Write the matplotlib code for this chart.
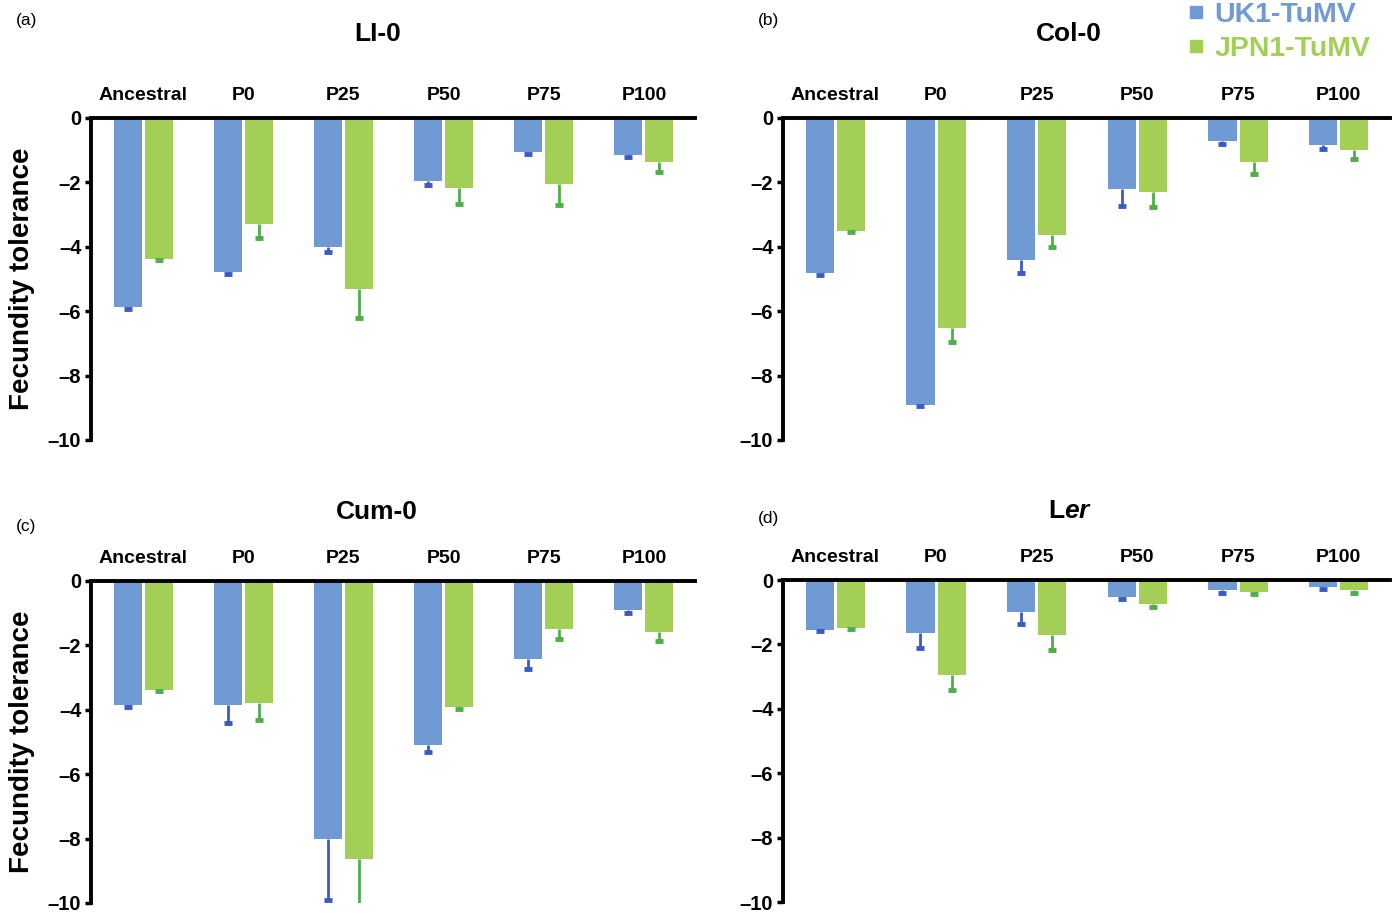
import numpy as np
import matplotlib.pyplot as plt
from matplotlib.lines import Line2D

# ── Data ─────────────────────────────────────────────────────
categories = ['Ancestral', 'P0', 'P25', 'P50', 'P75', 'P100']
panels     = ['LI-0', 'Col-0', 'Cum-0', 'L$\\mathit{er}$']
letters    = ['(a)', '(b)', '(c)', '(d)']

uk1_mean = {
    'LI-0':  [-5.87, -4.78, -4.00, -1.95, -1.05, -1.14],
    'Col-0': [-4.83, -8.90, -4.42, -2.21, -0.73, -0.84],
    'Cum-0': [-3.86, -3.86, -8.00, -5.09, -2.41, -0.91],
    'Ler':   [-1.55, -1.65, -1.00, -0.52, -0.31, -0.21],
}
uk1_err = {
    'LI-0':  [0.05, 0.07, 0.17, 0.13, 0.07, 0.08],
    'Col-0': [0.04, 0.06, 0.41, 0.51, 0.07, 0.13],
    'Cum-0': [0.04, 0.56, 1.90, 0.21, 0.31, 0.08],
    'Ler':   [0.03, 0.47, 0.36, 0.08, 0.08, 0.08],
}
jpn1_mean = {
    'LI-0':  [-4.38, -3.30, -5.30, -2.17, -2.05, -1.36],
    'Col-0': [-3.51, -6.53, -3.62, -2.31, -1.37, -0.99],
    'Cum-0': [-3.38, -3.80, -8.65, -3.92, -1.50, -1.60],
    'Ler':   [-1.49, -2.94, -1.70, -0.73, -0.36, -0.31],
}
jpn1_err = {
    'LI-0':  [0.04, 0.43, 0.92, 0.49, 0.65, 0.32],
    'Col-0': [0.04, 0.44, 0.39, 0.46, 0.37, 0.29],
    'Cum-0': [0.04, 0.52, 1.50, 0.07, 0.29, 0.26],
    'Ler':   [0.04, 0.47, 0.47, 0.10, 0.08, 0.08],
}
keys = ['LI-0', 'Col-0', 'Cum-0', 'Ler']

series_names = ['UK1-TuMV', 'JPN1-TuMV']
BLUE, BLUE_ERR   = '#6f9ad3', '#3b5bc4'
GREEN, GREEN_ERR = '#a4cf57', '#4fae4a'

plt.rcParams['font.family'] = ['Liberation Sans', 'DejaVu Sans']
plt.rcParams['mathtext.fontset'] = 'custom'
plt.rcParams['mathtext.it'] = 'Liberation Sans:italic:bold'
plt.rcParams['mathtext.rm'] = 'Liberation Sans:bold'

fig = plt.figure(figsize=(13.92, 9.13), dpi=100)

# axes rectangles [left, bottom, width, height] in figure fraction
rects = [
    [0.0654, 0.5181, 0.4339, 0.3527],
    [0.5625, 0.5181, 0.4361, 0.3527],
    [0.0654, 0.0110, 0.4339, 0.3527],
    [0.5625, 0.0120, 0.4361, 0.3527],
]
title_x  = [0.2716, 0.768, 0.2708, 0.7687]
title_y  = [0.963, 0.963, 0.439, 0.440]
letter_y = [0.978, 0.978, 0.423, 0.432]

x = np.arange(len(categories))
w = 0.28
off = 0.155

for i, key in enumerate(keys):
    ax = fig.add_axes(rects[i])
    for vals, errs, col, ecol, dx in [
        (uk1_mean[key], uk1_err[key], BLUE, BLUE_ERR, -off),
        (jpn1_mean[key], jpn1_err[key], GREEN, GREEN_ERR, off),
    ]:
        vals = np.array(vals)
        errs = np.array(errs)
        ax.bar(x + dx, vals, width=w, color=col, edgecolor='none', zorder=2)
        # one-sided (downward) error bars
        ax.vlines(x + dx, vals, vals - errs, color=ecol, linewidth=2, zorder=3)
        ax.plot(x + dx, vals - errs, linestyle='none', marker='_',
                markersize=6, markeredgewidth=3.5, color=ecol, zorder=3)

    ax.set_xlim(-0.52, 5.51)
    ax.set_ylim(-10, 0)
    ax.set_yticks(np.arange(-10, 1, 2))
    ax.set_yticklabels(['\u201310', '\u20138', '\u20136', '\u20134', '\u20132', '0'],
                       fontsize=14.5, fontweight='bold')
    ax.xaxis.tick_top()
    ax.set_xticks(x)
    ax.set_xticklabels(categories, fontsize=14, fontweight='bold')
    ax.tick_params(axis='x', length=0, pad=10)
    ax.tick_params(axis='y', length=4, width=2.5, pad=3)
    for s in ['right', 'bottom']:
        ax.spines[s].set_visible(False)
    for s in ['left', 'top']:
        ax.spines[s].set_linewidth(2.8)
    ax.patch.set_alpha(0)

    if i % 2 == 0:
        ax.set_ylabel('Fecundity tolerance', fontsize=20, fontweight='bold', labelpad=9)

    fig.text(title_x[i], title_y[i], panels[i], ha='center', va='center',
             fontsize=19, fontweight='bold')
    lx = 0.019 if i % 2 == 0 else 0.552
    fig.text(lx, letter_y[i], letters[i], ha='center', va='center', fontsize=12.5)

handles = [Line2D([], [], linestyle='none', marker='s', markersize=9, color=BLUE),
           Line2D([], [], linestyle='none', marker='s', markersize=9, color=GREEN)]
fig.legend(handles, series_names, loc='upper right', bbox_to_anchor=(1.003, 1.026),
           frameon=False, labelcolor=[BLUE, GREEN], handlelength=0.6,
           handletextpad=0.35, labelspacing=0.3,
           prop={'size': 20.5, 'weight': 'bold'})

fig.savefig('out.png', dpi=100)
